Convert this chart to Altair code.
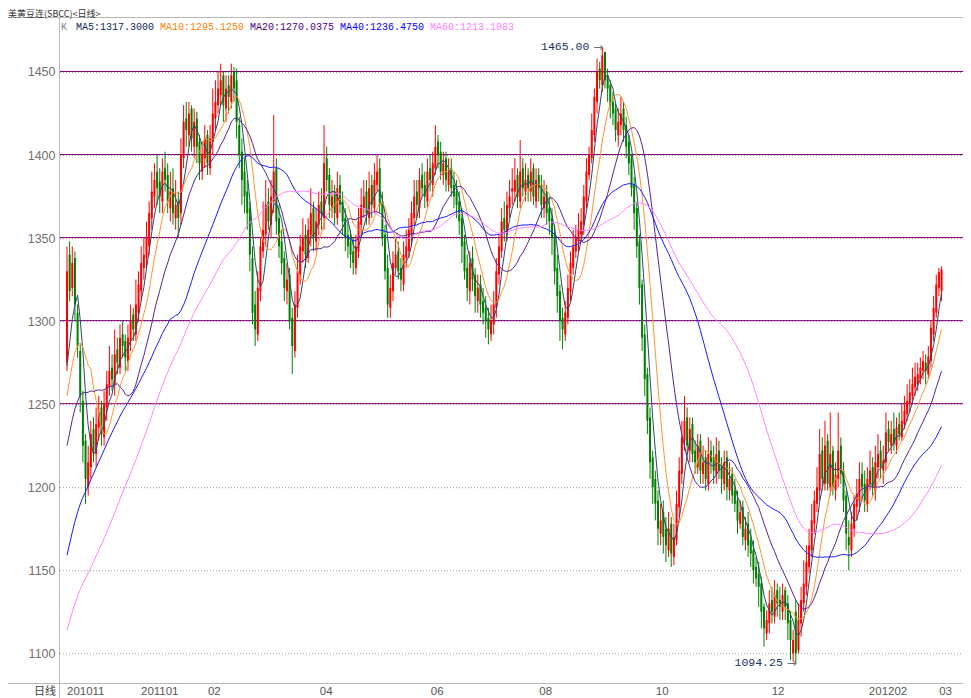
import altair as alt
import pandas as pd

# ---------------- data ----------------
# closes before the first visible candle (only feed the moving averages)
PRE_CLOSE = [
    1000, 1005, 1010, 1008, 1015, 1020, 1012, 1018, 1025, 1022,
    1030, 1028, 1035, 1030, 1032, 1038, 1035, 1040, 1042, 1035,
    1045, 1050, 1055, 1060, 1058, 1065, 1070, 1075, 1080, 1085,
    1090, 1095, 1100, 1105, 1115, 1125, 1135, 1145, 1150, 1157,
    1165, 1175, 1180, 1190, 1185, 1195, 1205, 1210, 1215, 1230,
    1225, 1240, 1235, 1245, 1240, 1250, 1262, 1268, 1255,
]

OPEN = [
    1275, 1340, 1320, 1338, 1305, 1282, 1252, 1228, 1200, 1212,
    1235, 1220, 1236, 1248, 1230, 1248, 1260, 1272, 1262, 1283,
    1272, 1292, 1288, 1276, 1288, 1304, 1292, 1305, 1318, 1332,
    1338, 1345, 1362, 1375, 1390, 1384, 1372, 1392, 1388, 1368,
    1380, 1362, 1372, 1365, 1398, 1422, 1412, 1428, 1405, 1422,
    1408, 1390, 1398, 1412, 1392, 1408, 1422, 1430, 1436, 1448,
    1428, 1442, 1432, 1450, 1445, 1418, 1402, 1390, 1378, 1368,
    1338, 1310, 1292, 1318, 1342, 1352, 1372, 1358, 1372, 1392,
    1362, 1348, 1338, 1318, 1328, 1302, 1282, 1308, 1328, 1342,
    1352, 1338, 1352, 1368, 1348, 1358, 1372, 1362, 1398, 1388,
    1368, 1378, 1362, 1382, 1372, 1362, 1352, 1348, 1342, 1332,
    1342, 1358, 1368, 1378, 1362, 1382, 1368, 1382, 1392, 1372,
    1352, 1332, 1308, 1318, 1332, 1342, 1332, 1322, 1338, 1342,
    1352, 1362, 1378, 1368, 1388, 1382, 1372, 1392, 1382, 1392,
    1408, 1402, 1388, 1398, 1382, 1392, 1382, 1378, 1372, 1362,
    1348, 1332, 1318, 1338, 1328, 1312, 1322, 1312, 1308, 1302,
    1292, 1298, 1308, 1328, 1342, 1362, 1352, 1368, 1378, 1378,
    1388, 1372, 1392, 1378, 1388, 1378, 1392, 1372, 1388, 1382,
    1368, 1378, 1368, 1362, 1352, 1332, 1318, 1302, 1292, 1302,
    1318, 1332, 1342, 1348, 1352, 1358, 1372, 1388, 1398, 1412,
    1432, 1452, 1442, 1462, 1448, 1442, 1432, 1428, 1412, 1418,
    1428, 1418, 1408, 1398, 1382, 1368, 1348, 1322, 1292, 1268,
    1242, 1218, 1205, 1192, 1172, 1185, 1175, 1162, 1178, 1158,
    1168, 1188, 1208, 1228, 1242, 1222, 1238, 1222, 1212, 1228,
    1208, 1218, 1202, 1222, 1218, 1208, 1222, 1212, 1202, 1218,
    1198, 1208, 1198, 1192, 1178, 1188, 1168, 1178, 1168, 1162,
    1152, 1148, 1142, 1128, 1112, 1118, 1132, 1122, 1138, 1132,
    1125, 1138, 1130, 1120, 1100, 1125, 1102, 1118, 1130, 1140,
    1152, 1162, 1178, 1190, 1198, 1222, 1202, 1228, 1200, 1222,
    1198, 1205, 1225, 1210, 1195, 1170, 1162, 1175, 1188, 1192,
    1208, 1202, 1190, 1202, 1212, 1198, 1212, 1222, 1210, 1215,
    1235, 1225, 1235, 1225, 1238, 1230, 1238, 1244, 1250, 1255,
    1260, 1262, 1265, 1270, 1275, 1268, 1276, 1292, 1305, 1320,
    1318,
]

HIGH = [
    1345, 1348, 1345, 1342, 1310, 1286, 1258, 1232, 1225, 1240,
    1242, 1248, 1255, 1252, 1258, 1270, 1285, 1280, 1295, 1290,
    1298, 1300, 1292, 1298, 1310, 1308, 1325, 1330, 1345, 1350,
    1360, 1372, 1390, 1395, 1400, 1392, 1398, 1402, 1395, 1390,
    1392, 1385, 1378, 1410, 1430, 1432, 1432, 1430, 1428, 1426,
    1412, 1408, 1418, 1415, 1418, 1440, 1445, 1450, 1455, 1450,
    1448, 1448, 1455, 1453, 1452, 1423, 1410, 1398, 1385, 1372,
    1345, 1318, 1330, 1350, 1372, 1385, 1380, 1385, 1424, 1398,
    1370, 1355, 1342, 1335, 1332, 1308, 1318, 1340, 1352, 1362,
    1358, 1362, 1380, 1372, 1368, 1378, 1380, 1418, 1405, 1392,
    1385, 1382, 1390, 1388, 1378, 1368, 1360, 1355, 1350, 1352,
    1368, 1380, 1385, 1385, 1390, 1388, 1395, 1400, 1398, 1378,
    1358, 1340, 1328, 1342, 1350, 1348, 1338, 1348, 1355, 1362,
    1372, 1385, 1385, 1392, 1395, 1390, 1398, 1400, 1402, 1418,
    1412, 1408, 1402, 1402, 1398, 1398, 1390, 1385, 1378, 1368,
    1352, 1340, 1342, 1345, 1332, 1328, 1328, 1320, 1315, 1308,
    1310, 1318, 1338, 1352, 1368, 1372, 1378, 1385, 1392, 1398,
    1392, 1409, 1398, 1395, 1392, 1398, 1395, 1392, 1392, 1388,
    1385, 1382, 1375, 1368, 1358, 1340, 1322, 1308, 1312, 1328,
    1342, 1355, 1358, 1365, 1368, 1382, 1398, 1405, 1425, 1440,
    1458, 1456, 1465, 1462, 1452, 1445, 1438, 1432, 1428, 1435,
    1432, 1423, 1412, 1400, 1387, 1372, 1352, 1325, 1298, 1272,
    1248, 1222, 1210, 1198, 1190, 1192, 1182, 1185, 1182, 1178,
    1198, 1218, 1240, 1255, 1248, 1242, 1242, 1228, 1232, 1232,
    1225, 1222, 1230, 1228, 1225, 1230, 1228, 1218, 1222, 1222,
    1215, 1212, 1205, 1198, 1192, 1192, 1182, 1185, 1175, 1168,
    1158, 1155, 1146, 1130, 1126, 1138, 1140, 1144, 1142, 1140,
    1142, 1140, 1135, 1125, 1114, 1132, 1130, 1140, 1156, 1165,
    1175, 1190, 1198, 1212, 1235, 1230, 1240, 1232, 1245, 1225,
    1215, 1245, 1230, 1215, 1198, 1180, 1185, 1195, 1205, 1215,
    1215, 1210, 1212, 1222, 1218, 1225, 1232, 1228, 1225, 1245,
    1240, 1240, 1245, 1242, 1245, 1250, 1255, 1262, 1265, 1272,
    1275, 1275, 1278, 1282, 1280, 1285, 1300, 1315, 1328, 1332,
    1333,
]

LOW = [
    1270, 1312, 1315, 1300, 1278, 1245, 1215, 1190, 1195, 1205,
    1215, 1212, 1228, 1225, 1225, 1240, 1255, 1258, 1255, 1268,
    1268, 1278, 1270, 1270, 1282, 1288, 1288, 1300, 1312, 1325,
    1332, 1340, 1355, 1368, 1370, 1365, 1365, 1378, 1365, 1360,
    1358, 1355, 1350, 1358, 1392, 1405, 1405, 1402, 1398, 1395,
    1385, 1385, 1392, 1388, 1388, 1400, 1415, 1425, 1430, 1420,
    1420, 1425, 1428, 1432, 1410, 1392, 1370, 1365, 1355, 1330,
    1298, 1285, 1288, 1312, 1338, 1345, 1355, 1350, 1365, 1352,
    1338, 1328, 1312, 1310, 1295, 1268, 1278, 1302, 1322, 1335,
    1332, 1335, 1345, 1342, 1342, 1352, 1355, 1355, 1378, 1362,
    1362, 1358, 1358, 1365, 1352, 1342, 1338, 1332, 1328, 1328,
    1338, 1352, 1362, 1358, 1358, 1362, 1365, 1378, 1365, 1345,
    1325, 1302, 1302, 1312, 1328, 1325, 1318, 1318, 1332, 1338,
    1345, 1358, 1362, 1362, 1375, 1368, 1368, 1378, 1375, 1388,
    1392, 1385, 1382, 1378, 1378, 1375, 1368, 1362, 1352, 1335,
    1325, 1312, 1310, 1318, 1305, 1305, 1302, 1298, 1290, 1286,
    1288, 1292, 1302, 1322, 1338, 1348, 1348, 1362, 1370, 1372,
    1368, 1368, 1375, 1372, 1372, 1372, 1370, 1368, 1372, 1362,
    1362, 1358, 1352, 1340, 1322, 1305, 1288, 1283, 1288, 1298,
    1312, 1328, 1338, 1342, 1348, 1352, 1368, 1385, 1395, 1408,
    1425, 1440, 1438, 1440, 1432, 1422, 1418, 1408, 1405, 1412,
    1408, 1398, 1388, 1375, 1355, 1338, 1310, 1282, 1255, 1232,
    1205, 1190, 1180, 1165, 1165, 1160, 1155, 1158, 1152, 1153,
    1165, 1182, 1202, 1222, 1220, 1215, 1215, 1208, 1208, 1202,
    1202, 1198, 1198, 1208, 1202, 1202, 1205, 1196, 1198, 1192,
    1192, 1190, 1185, 1172, 1175, 1165, 1162, 1158, 1152, 1142,
    1140, 1128, 1115, 1104, 1108, 1112, 1118, 1118, 1122, 1120,
    1120, 1120, 1108, 1096, 1095, 1094.25, 1100, 1110, 1125, 1135,
    1148, 1158, 1172, 1185, 1192, 1198, 1198, 1198, 1195, 1195,
    1192, 1200, 1202, 1185, 1162, 1150, 1158, 1170, 1180, 1185,
    1192, 1185, 1185, 1198, 1195, 1192, 1205, 1205, 1202, 1210,
    1222, 1220, 1222, 1220, 1228, 1228, 1235, 1240, 1245, 1250,
    1255, 1258, 1262, 1265, 1262, 1265, 1272, 1288, 1302, 1315,
    1312,
]

CLOSE = [
    1330, 1318, 1335, 1310, 1285, 1255, 1225, 1205, 1215, 1232,
    1222, 1238, 1245, 1232, 1250, 1262, 1270, 1265, 1280, 1275,
    1290, 1285, 1278, 1290, 1300, 1295, 1310, 1322, 1335, 1340,
    1350, 1365, 1378, 1385, 1380, 1375, 1390, 1385, 1372, 1378,
    1365, 1370, 1362, 1400, 1420, 1415, 1425, 1410, 1420, 1405,
    1395, 1400, 1410, 1395, 1410, 1425, 1432, 1440, 1445, 1430,
    1440, 1435, 1448, 1440, 1420, 1400, 1385, 1375, 1365, 1340,
    1305, 1295, 1320, 1345, 1355, 1370, 1360, 1375, 1390, 1360,
    1345, 1335, 1320, 1325, 1300, 1285, 1310, 1330, 1345, 1350,
    1340, 1355, 1365, 1350, 1360, 1370, 1365, 1395, 1385, 1370,
    1375, 1365, 1380, 1370, 1360, 1350, 1345, 1340, 1335, 1345,
    1360, 1370, 1375, 1365, 1380, 1370, 1385, 1390, 1370, 1350,
    1330, 1310, 1320, 1335, 1340, 1330, 1325, 1340, 1345, 1355,
    1365, 1375, 1370, 1385, 1380, 1375, 1390, 1385, 1395, 1405,
    1400, 1390, 1395, 1385, 1390, 1380, 1375, 1370, 1360, 1345,
    1330, 1320, 1335, 1325, 1315, 1320, 1310, 1305, 1300, 1295,
    1300, 1310, 1330, 1345, 1360, 1355, 1370, 1375, 1380, 1385,
    1375, 1390, 1380, 1385, 1380, 1390, 1375, 1385, 1380, 1370,
    1375, 1365, 1360, 1350, 1330, 1315, 1300, 1295, 1305, 1320,
    1335, 1345, 1350, 1355, 1360, 1375, 1390, 1400, 1415, 1435,
    1450, 1445, 1460, 1445, 1440, 1430, 1425, 1415, 1420, 1425,
    1415, 1405, 1395, 1380, 1365, 1345, 1320, 1290, 1265, 1240,
    1215, 1200, 1190, 1175, 1180, 1170, 1165, 1175, 1160, 1170,
    1190, 1210, 1230, 1240, 1225, 1235, 1220, 1215, 1225, 1210,
    1215, 1205, 1220, 1215, 1210, 1220, 1210, 1205, 1215, 1200,
    1205, 1195, 1190, 1180, 1185, 1170, 1175, 1165, 1160, 1150,
    1145, 1140, 1125, 1115, 1120, 1130, 1125, 1135, 1130, 1128,
    1135, 1128, 1118, 1108, 1108, 1100, 1120, 1132, 1142, 1155,
    1165, 1180, 1192, 1200, 1220, 1205, 1225, 1202, 1220, 1200,
    1207.5, 1222, 1208, 1192, 1172, 1165, 1178, 1190, 1196, 1205,
    1200, 1192, 1205, 1210, 1200, 1215, 1220, 1212, 1216, 1233,
    1227.25, 1232, 1226, 1236, 1232, 1240, 1246, 1252, 1257, 1262,
    1266.5, 1268, 1272, 1276, 1270, 1278.75, 1296, 1308, 1322, 1329.5,
    1331,
]

MA_NAMES = ["MA5", "MA10", "MA20", "MA40", "MA60"]
MA_WINDOWS = [5, 10, 20, 40, 60]
MA_LINE_COLORS = ["#2a4868", "#ff9430", "#55239a", "#1a1aff", "#ff84ff"]

LEGEND_TEXT = ["K", "MA5:1317.3000", "MA10:1295.1250", "MA20:1270.0375",
               "MA40:1236.4750", "MA60:1213.1083"]
LEGEND_COLORS = ["#808080", "#0b2a55", "#ff8000", "#4b0082", "#0000ff", "#ff80ff"]
LEGEND_PX = [1, 16, 100, 190, 280, 370]

FIRST_TICK = "201011"
TICK_POS = [35, 55.6, 97.8, 139.7, 180.6, 224.6, 268.3, 309.8, 331.5]
TICK_LABELS = ["201101", "02", "04", "06", "08", "10", "12", "201202", "03"]

GRID_LEVELS = [1100, 1150, 1200, 1250, 1300, 1350, 1400, 1450]
LINE_LEVELS = [1250, 1300, 1350, 1400, 1450]

EXTREMES_IDX = [202, 275]
EXTREMES_VAL = [1465.00, 1094.25]
EXTREMES_TXT = ["1465.00", "1094.25"]

TITLE = "美黄豆连(SBCC)<日线>"

# ---------------- layout ----------------
W, H = 903, 666
PAD_L, PAD_T, PAD_B = 52, 9, 15
YDOM = [1082.1, 1483.1]
XDOM = [-0.75, 336.2]

n = min(len(OPEN), len(HIGH), len(LOW), len(CLOSE))
rows = []
for i in range(n):
    o, h, l, c = OPEN[i], HIGH[i], LOW[i], CLOSE[i]
    rows.append({"i": i, "open": o, "close": c,
                 "high": max(h, o, c), "low": min(l, o, c),
                 "dir": "up" if c >= o else "down"})
candles = pd.DataFrame(rows)

full = pd.Series(PRE_CLOSE + CLOSE[:n], dtype=float)
off = len(PRE_CLOSE)

xs = alt.Scale(domain=XDOM, nice=False, zero=False)
ys = alt.Scale(domain=YDOM, nice=False, zero=False)


def X(f):
    return alt.X(f, scale=xs, axis=None)


grid_df = pd.DataFrame({"lvl": GRID_LEVELS})
lines_df = pd.DataFrame({"lvl": LINE_LEVELS})

grid = alt.Chart(grid_df).mark_rule(color="#a0a0a0", strokeDash=[1, 2], strokeWidth=1, yOffset=0.5).encode(
    y=alt.Y("lvl:Q", scale=ys,
            axis=alt.Axis(values=GRID_LEVELS, format="d", title=None, domain=False, ticks=False, grid=False,
                          labelColor="#707070", labelFont="Liberation Sans", labelFontSize=12.5,
                          labelPadding=5)),
    x=alt.value(0), x2=alt.value(W),
)
purple = alt.Chart(lines_df).mark_rule(color="#800080", strokeWidth=1, yOffset=-0.5).encode(
    y=alt.Y("lvl:Q", scale=ys), x=alt.value(0), x2=alt.value(W),
)

frame_df = pd.DataFrame({"k": [0]})
top_line = alt.Chart(frame_df).mark_rule(color="#b8b8b8", strokeWidth=1).encode(
    x=alt.value(-PAD_L), x2=alt.value(W), y=alt.value(0.5))
bottom_line = alt.Chart(frame_df).mark_rule(color="#b8b8b8", strokeWidth=1).encode(
    x=alt.value(-PAD_L), x2=alt.value(W), y=alt.value(H + 0.5))
axis_line = alt.Chart(frame_df).mark_rule(color="#b8b8b8", strokeWidth=1).encode(
    x=alt.value(-0.5), y=alt.value(0), y2=alt.value(H + PAD_B))

wick_up = alt.Chart(candles).transform_filter(alt.datum.dir == "up").mark_rule(
    strokeWidth=1, color="#ff0000").encode(x=X("i:Q"), y=alt.Y("low:Q", scale=ys), y2="high:Q")
wick_dn = alt.Chart(candles).transform_filter(alt.datum.dir == "down").mark_rule(
    strokeWidth=1, color="#008000").encode(x=X("i:Q"), y=alt.Y("low:Q", scale=ys), y2="high:Q")
body_up = alt.Chart(candles).transform_filter(alt.datum.dir == "up").mark_bar(
    size=2, color="#ff0000").encode(x=X("i:Q"), y=alt.Y("open:Q", scale=ys), y2="close:Q")
body_dn = alt.Chart(candles).transform_filter(alt.datum.dir == "down").mark_bar(
    size=2, color="#008000").encode(x=X("i:Q"), y=alt.Y("open:Q", scale=ys), y2="close:Q")

ma_layers = []
for name, w, col in zip(MA_NAMES, MA_WINDOWS, MA_LINE_COLORS):
    m = full.rolling(w).mean()
    pts = [{"i": i, "v": float(m.iloc[off + i])} for i in range(n) if pd.notna(m.iloc[off + i])]
    ma_layers.append(
        alt.Chart(pd.DataFrame(pts)).mark_line(strokeWidth=1, color=col).encode(
            x=X("i:Q"), y=alt.Y("v:Q", scale=ys), order="i:Q")
    )

ext_df = pd.DataFrame({"i": EXTREMES_IDX, "v": EXTREMES_VAL, "t": EXTREMES_TXT})
ext_txt = alt.Chart(ext_df).mark_text(align="right", baseline="middle", dx=-13,
                                      font="Liberation Mono", fontSize=11.5, color="#17335e").encode(
    x=X("i:Q"), y=alt.Y("v:Q", scale=ys), text="t:N")
ext_arrow = alt.Chart(ext_df).mark_text(align="right", baseline="middle", dx=1, text="→",
                                        font="DejaVu Sans", fontSize=12, color="#6f6f6f").encode(
    x=X("i:Q"), y=alt.Y("v:Q", scale=ys))

leg_df = pd.DataFrame({"t": LEGEND_TEXT, "c": LEGEND_COLORS, "px": LEGEND_PX})
legend = alt.Chart(leg_df).mark_text(align="left", baseline="alphabetic", font="Liberation Mono",
                                     fontSize=10).encode(
    x=alt.X("px:Q", scale=None), y=alt.value(12.5), text="t:N", color=alt.Color("c:N", scale=None))

tick_df = pd.DataFrame({"i": TICK_POS, "t": TICK_LABELS})
ticks = alt.Chart(tick_df).mark_text(align="center", baseline="middle", font="Liberation Sans",
                                     fontSize=11.5, color="#555555").encode(
    x=X("i:Q"), y=alt.value(H + 9), text="t:N")
first_tick = alt.Chart(pd.DataFrame({"i": [0], "t": [FIRST_TICK]})).mark_text(
    align="left", baseline="middle", font="Liberation Sans", fontSize=11.5, color="#555555").encode(
    x=X("i:Q"), y=alt.value(H + 9), text="t:N")

side_df = pd.DataFrame({"t": ["日线"]})
side = alt.Chart(side_df).mark_text(align="right", baseline="middle", font="Noto Sans CJK SC",
                                    fontSize=11, color="#444444").encode(
    x=alt.value(-4), y=alt.value(H + 9), text="t:N")

title_df = pd.DataFrame({"t": [TITLE]})
title = alt.Chart(title_df).mark_text(align="left", baseline="top", font="Noto Sans CJK SC",
                                      fontSize=9, color="#333333").encode(
    x=alt.value(-PAD_L), y=alt.value(-PAD_T + 2), text="t:N")

chart = alt.layer(
    grid, purple, top_line, bottom_line, axis_line,
    wick_up, wick_dn, body_up, body_dn, *ma_layers,
    ext_txt, ext_arrow, legend, ticks, first_tick, side, title,
).properties(
    width=W, height=H,
    autosize=alt.AutoSizeParams(type="none"),
    padding={"left": PAD_L, "top": PAD_T, "right": 0, "bottom": PAD_B},
    background="white",
).configure_view(stroke=None)

chart.save("out.html", embed_options={"renderer": "svg", "actions": False})
